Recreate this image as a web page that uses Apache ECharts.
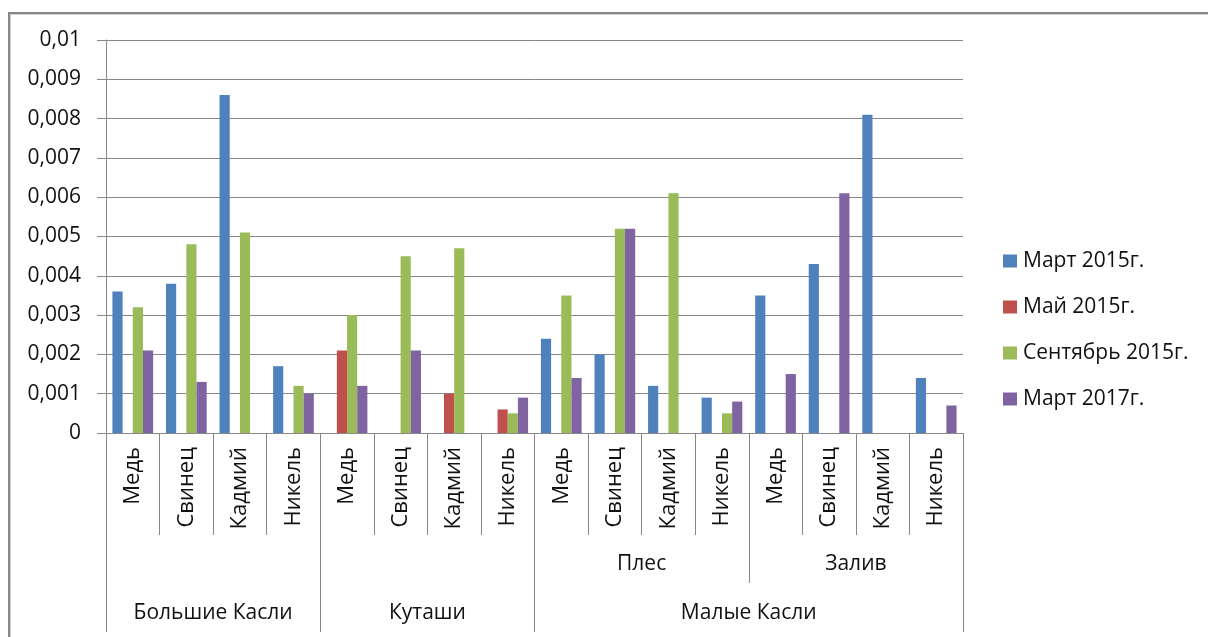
<!DOCTYPE html>
<html>
<head>
<meta charset="utf-8">
<script src="https://cdn.jsdelivr.net/npm/echarts@6/dist/echarts.min.js"></script>
<style>
html,body{margin:0;padding:0;background:#fff;overflow:hidden;width:1208px;height:637px}
#frame{position:absolute;left:8px;top:12px;width:1220px;height:640px;border-top:2px solid #878787;border-left:2px solid #878787;box-shadow:inset 1px 1px 0 #cfcfcf}
#chart{position:absolute;left:0;top:0;width:1208px;height:637px}
</style>
</head>
<body>
<div id="frame"></div>
<div id="chart"></div>
<script>
// ---- data ----
const metals = ['Медь', 'Свинец', 'Кадмий', 'Никель'];
const siteNames = ['Большие Касли', 'Куташи', 'Малые Касли'];
const siteSpans = [4, 4, 8];               // number of metal categories under each site
const subNames = ['', '', 'Плес', 'Залив']; // one per block of 4 metals
const seriesNames = ['Март 2015г.', 'Май 2015г.', 'Сентябрь 2015г.', 'Март 2017г.'];
const yTicks = [0, 0.001, 0.002, 0.003, 0.004, 0.005, 0.006, 0.007, 0.008, 0.009, 0.01];

const mart2015 = [0.0036, 0.0038, 0.0086, 0.0017,  null, null, null, null,        0.0024, 0.0020, 0.0012, 0.0009,  0.0035, 0.0043, 0.0081, 0.0014];
const may2015  = [null, null, null, null,          0.0021, null, 0.0010, 0.0006,  null, null, null, null,          null, null, null, null];
const sep2015  = [0.0032, 0.0048, 0.0051, 0.0012,  0.0030, 0.0045, 0.0047, 0.0005,  0.0035, 0.0052, 0.0061, 0.0005,  null, null, null, null];
const mar2017  = [0.0021, 0.0013, null, 0.0010,    0.0012, 0.0021, null, 0.0009,  0.0014, 0.0052, null, 0.0008,    0.0015, 0.0061, null, 0.0007];
const colors = ['#4F81BD', '#C0504D', '#9BBB59', '#8064A2'];

// ---- derived axis helpers ----
const nBlocks = subNames.length;
const metalCats = [];
for (let b = 0; b < nBlocks; b++) metals.forEach(m => metalCats.push(m));
const nCat = metalCats.length;
const nHalf = nCat * 2 + 1; // half-step positions across the axis (boundaryGap:false)

const lvl2 = new Array(nHalf).fill('');
const lvl2Ticks = new Set();
subNames.forEach((s, b) => {
  if (s) lvl2[b * 8 + 4] = s;
  if (b > 0 && s && subNames[b - 1]) lvl2Ticks.add(b * 8);
});
const lvl3 = new Array(nHalf).fill('');
const lvl3Ticks = new Set([0]);
let acc = 0;
siteNames.forEach((s, i) => {
  lvl3[acc * 2 + siteSpans[i]] = s;
  acc += siteSpans[i];
  lvl3Ticks.add(acc * 2);
});

const FONT = 'Open Sans';
const GRAY = '#878787';
const TXT = '#111';

const chart = echarts.init(document.getElementById('chart'), null, { renderer: 'canvas' });
chart.setOption({
  animation: false,
  backgroundColor: 'transparent',
  color: colors,
  textStyle: { fontFamily: FONT },
  grid: { left: 106, right: 245, top: 40, bottom: 204, containLabel: false },
  legend: {
    orient: 'vertical',
    left: 1003,
    top: 250,
    padding: 0,
    itemWidth: 14,
    itemHeight: 13,
    itemGap: 24,
    icon: 'rect',
    textStyle: { fontFamily: FONT, fontSize: 21, color: TXT, lineHeight: 22, padding: [0, 0, 0, 1] },
    data: seriesNames
  },
  xAxis: [
    {
      type: 'category',
      position: 'bottom',
      data: metalCats,
      boundaryGap: true,
      axisLine: { show: true, lineStyle: { color: GRAY, width: 1 } },
      axisTick: { show: true, length: 102, interval: 0, lineStyle: { color: GRAY } },
      axisLabel: { interval: 0, rotate: 90, margin: 14, fontFamily: FONT, fontSize: 22, color: TXT },
      splitLine: { show: false }
    },
    {
      type: 'category',
      position: 'bottom',
      data: lvl2,
      boundaryGap: false,
      axisLine: { show: false },
      axisTick: { show: true, length: 150, interval: (i) => lvl2Ticks.has(i), lineStyle: { color: GRAY } },
      axisLabel: { interval: 0, margin: 121, fontFamily: FONT, fontSize: 21, lineHeight: 21, color: TXT },
      splitLine: { show: false }
    },
    {
      type: 'category',
      position: 'bottom',
      data: lvl3,
      boundaryGap: false,
      axisLine: { show: false },
      axisTick: { show: true, length: 199, interval: (i) => lvl3Ticks.has(i), lineStyle: { color: GRAY } },
      axisLabel: { interval: 0, margin: 170, fontFamily: FONT, fontSize: 21, lineHeight: 21, color: TXT },
      splitLine: { show: false }
    }
  ],
  yAxis: {
    type: 'value',
    min: yTicks[0],
    max: yTicks[yTicks.length - 1],
    interval: yTicks[1] - yTicks[0],
    axisLine: { show: true, lineStyle: { color: GRAY, width: 1 } },
    axisTick: { show: true, length: 9, lineStyle: { color: GRAY } },
    splitLine: { show: true, lineStyle: { color: GRAY, width: 1 } },
    axisLabel: {
      margin: 25,
      fontFamily: FONT,
      fontSize: 21,
      color: TXT,
      formatter: v => v === 0 ? '0' : String(+v.toFixed(3)).replace('.', ',')
    }
  },
  series: [mart2015, may2015, sep2015, mar2017].map((d, i) => ({
    name: seriesNames[i],
    type: 'bar',
    xAxisIndex: 0,
    data: d,
    barGap: '0%',
    barCategoryGap: '24%',
    itemStyle: { color: colors[i] }
  }))
});
</script>
</body>
</html>
